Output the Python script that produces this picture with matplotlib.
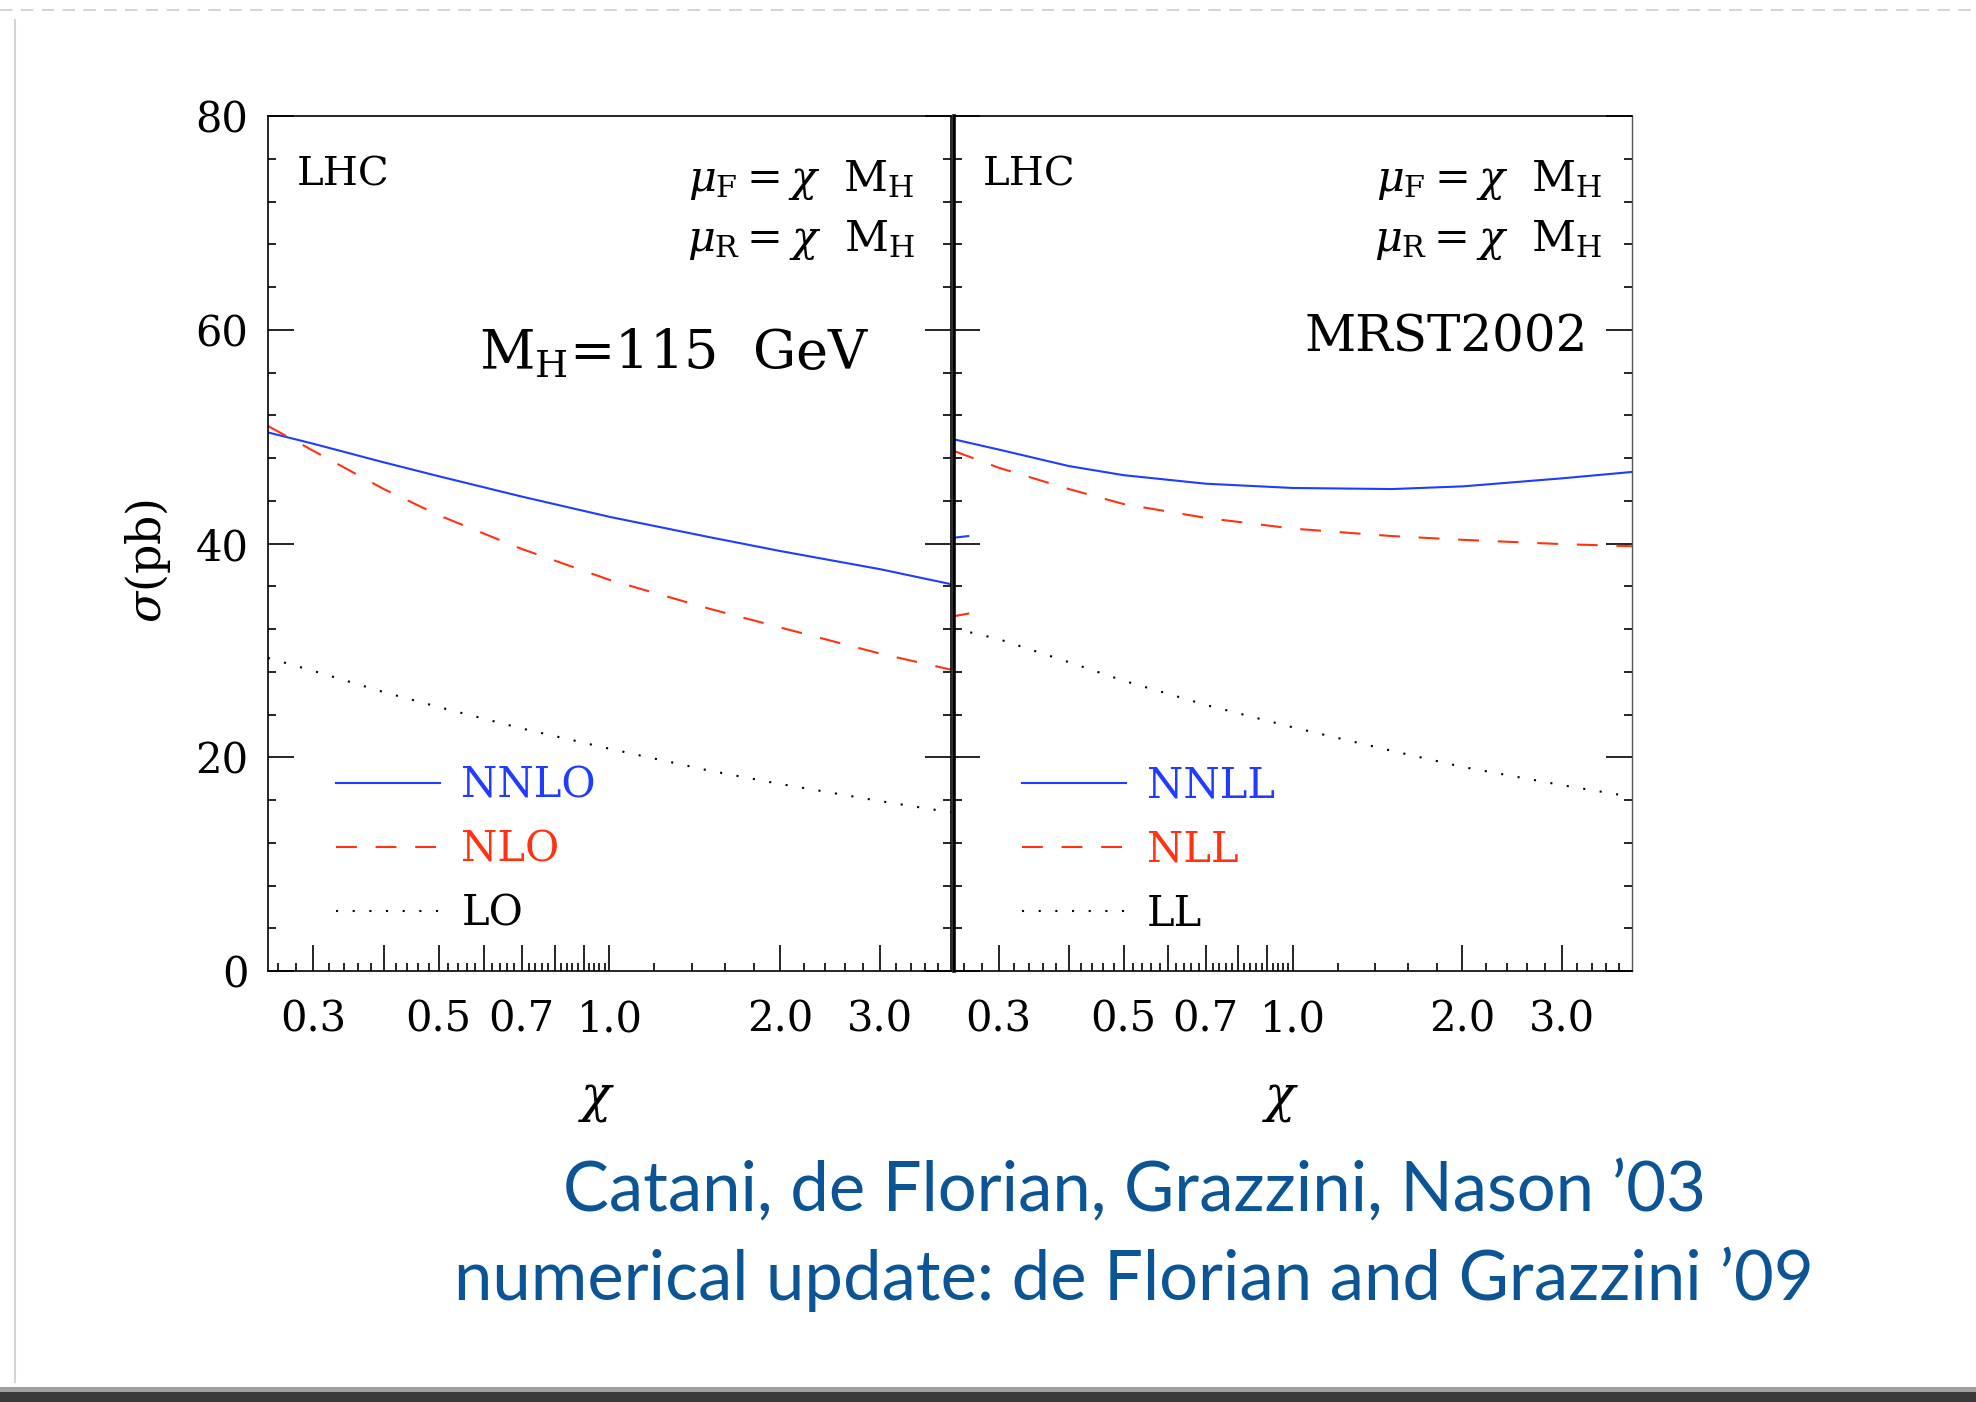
import numpy as np
import matplotlib
matplotlib.use("Agg")
import matplotlib.pyplot as plt
import matplotlib.ticker as ticker
from matplotlib.lines import Line2D
from matplotlib.patches import Rectangle

# ---------------------------------------------------------------------------
# data
# ---------------------------------------------------------------------------
chi = [0.25, 0.3, 0.4, 0.5, 0.7, 1.0, 1.5, 2.0, 3.0, 4.0]

# left panel: fixed order
nnlo = [50.4, 49.35, 47.6, 46.3, 44.4, 42.5, 40.6, 39.3, 37.6, 36.2]
nlo = [51.0, 48.7, 45.1, 42.65, 39.5, 36.6, 33.9, 32.15, 29.7, 28.2]
lo = [29.3, 28.1, 26.1, 24.7, 22.7, 20.8, 18.75, 17.5, 15.9, 14.85]

# right panel: resummed
nnll = [49.75, 48.8, 47.25, 46.4, 45.6, 45.2, 45.1, 45.35, 46.1, 46.7]
nll = [48.66, 47.1, 45.1, 43.7, 42.4, 41.4, 40.7, 40.35, 39.95, 39.75]
ll = [32.05, 31.06, 28.9, 27.17, 24.9, 22.8, 20.6, 19.1, 17.4, 16.3]

# short leftover stubs at the left edge of the right panel
stub_chi = [0.25, 0.265]
stub_blue = [40.55, 40.7]
stub_red = [33.2, 33.45]

x_major = [0.3, 0.4, 0.5, 0.6, 0.7, 0.8, 0.9, 1.0, 2.0, 3.0]
x_labels = ["0.3", "", "0.5", "", "0.7", "", "", "1.0", "2.0", "3.0"]
y_major = [0, 20, 40, 60, 80]

BLUE = "#1f3cff"
RED = "#ff3212"
CITE = "#0b5597"

plt.rcParams.update({
    "font.family": "DejaVu Serif",
    "mathtext.fontset": "dejavuserif",
    "axes.linewidth": 1.2,
})

fig = plt.figure(figsize=(19.76, 14.02), dpi=100)
ax1 = fig.add_axes([0.1356, 0.3074, 0.3457, 0.6098])
ax2 = fig.add_axes([0.4828, 0.3074, 0.3431, 0.6098])

x_minor = list(np.round(np.arange(0.26, 1.0, 0.02), 2)) + \
    [1.2, 1.4, 1.6, 1.8, 2.2, 2.4, 2.6, 2.8, 3.2, 3.4, 3.6, 3.8]


def style_axis(ax, show_ylabels):
    ax.set_xscale("log")
    ax.set_xlim(0.25, 4.0)
    ax.set_ylim(0, 80)
    ax.xaxis.set_major_locator(ticker.FixedLocator(x_major))
    ax.xaxis.set_major_formatter(ticker.FixedFormatter(x_labels))
    ax.xaxis.set_minor_locator(ticker.FixedLocator(x_minor))
    ax.xaxis.set_minor_formatter(ticker.NullFormatter())
    ax.yaxis.set_major_locator(ticker.FixedLocator(y_major))
    ax.yaxis.set_minor_locator(ticker.MultipleLocator(4))
    ax.tick_params(which="both", direction="in", top=False, right=True,
                   labelsize=30, width=1.2)
    ax.tick_params(which="major", length=19)
    ax.tick_params(which="minor", length=6)
    ax.tick_params(axis="x", pad=20)
    ax.tick_params(axis="y", pad=14, labelleft=show_ylabels)


def draw_panel(ax, y_solid, y_dash, y_dot, labels):
    ax.plot(chi, y_solid, color=BLUE, lw=1.5, label=labels[0])
    ax.plot(chi, y_dash, color=RED, lw=1.5, ls=(0, (10, 9)), label=labels[1])
    ax.plot(chi, y_dot, color="black", lw=1.5, ls=(0, (1, 7)), label=labels[2])
    ax.legend(loc="center left", bbox_to_anchor=(0.1, 0.142), frameon=False,
              fontsize=30, handlelength=2.5, handletextpad=0.5,
              labelspacing=0.53, borderpad=0, borderaxespad=0,
              labelcolor="linecolor")


style_axis(ax1, True)
style_axis(ax2, False)
draw_panel(ax1, nnlo, nlo, lo, ["NNLO", "NLO", "LO"])
draw_panel(ax2, nnll, nll, ll, ["NNLL", "NLL", "LL"])
ax2.plot(stub_chi, stub_blue, color=BLUE, lw=1.5)
ax2.plot(stub_chi, stub_red, color=RED, lw=1.5)

ax2.spines["left"].set_linewidth(2.6)
ax2.spines["right"].set_color("#555555")
ax2.spines["right"].set_linewidth(1.0)

# panel annotations
mu_f = r"$\mu_{\rm F}{=}\chi\ \ {\rm M}_{\rm H}$"
mu_r = r"$\mu_{\rm R}{=}\chi\ \ {\rm M}_{\rm H}$"
for ax in (ax1, ax2):
    ax.text(0.042, 0.931, "LHC", transform=ax.transAxes, fontsize=29,
            ha="left", va="center")
ax1.text(0.947, 0.925, mu_f, transform=ax1.transAxes, fontsize=31,
         ha="right", va="center")
ax1.text(0.947, 0.855, mu_r, transform=ax1.transAxes, fontsize=31,
         ha="right", va="center")
ax1.text(0.880, 0.722, r"M$_{\rm H}$=115  GeV", transform=ax1.transAxes,
         fontsize=39, ha="right", va="center")
ax2.text(0.956, 0.925, mu_f, transform=ax2.transAxes, fontsize=31,
         ha="right", va="center")
ax2.text(0.956, 0.855, mu_r, transform=ax2.transAxes, fontsize=31,
         ha="right", va="center")
ax2.text(0.935, 0.741, "MRST2002", transform=ax2.transAxes, fontsize=36,
         ha="right", va="center")

# axis titles
ax1.text(-0.176, 0.48, r"$\sigma$(pb)", transform=ax1.transAxes, fontsize=33,
         rotation=90, ha="center", va="center")
for ax in (ax1, ax2):
    ax.text(0.482, -0.15, r"$\chi$", transform=ax.transAxes, fontsize=36,
            ha="center", va="center")

# citation
fig.text(0.574, 0.1505, "Catani, de Florian, Grazzini, Nason \u201903",
         fontsize=49.5, family="Lato", color=CITE, ha="center", va="center")
fig.text(0.574, 0.0877, "numerical update: de Florian and Grazzini \u201909",
         fontsize=49.5, family="Lato", color=CITE, ha="center", va="center")

# slide frame
fig.add_artist(Rectangle((0, 0), 1, 10 / 1402, transform=fig.transFigure,
                         color="#3a3a3a", lw=0))
fig.add_artist(Rectangle((0, 10 / 1402), 1, 5 / 1402, transform=fig.transFigure,
                         color="#a0a0a0", lw=0))
fig.add_artist(Line2D([15 / 1976, 15 / 1976], [20 / 1402, 1 - 20 / 1402],
                      transform=fig.transFigure, color="#d5d5d5", lw=1.5))
fig.add_artist(Line2D([0, 1], [1 - 10 / 1402, 1 - 10 / 1402],
                      transform=fig.transFigure, color="#d5d5d5", lw=1.5,
                      ls=(0, (6, 4))))

fig.savefig("out.png", dpi=100)
